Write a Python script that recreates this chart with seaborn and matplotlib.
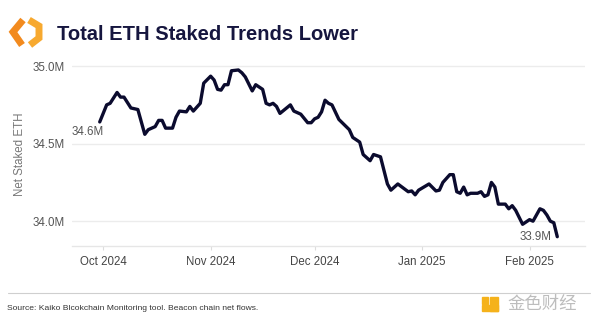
import matplotlib
matplotlib.use("Agg")
import matplotlib.pyplot as plt
import matplotlib.dates as mdates
from matplotlib.lines import Line2D
from matplotlib.patches import Rectangle
import numpy as np
import pandas as pd
import seaborn as sns

# Net staked ETH (millions), beacon chain
dates = [
    "2024-09-30", "2024-10-02", "2024-10-03", "2024-10-05", "2024-10-06", "2024-10-07",
    "2024-10-09", "2024-10-11", "2024-10-13", "2024-10-14", "2024-10-16", "2024-10-17",
    "2024-10-18", "2024-10-19", "2024-10-21", "2024-10-22", "2024-10-23", "2024-10-25",
    "2024-10-26", "2024-10-27", "2024-10-29", "2024-10-30", "2024-11-01", "2024-11-02",
    "2024-11-03", "2024-11-04", "2024-11-05", "2024-11-06", "2024-11-07", "2024-11-09",
    "2024-11-10", "2024-11-11", "2024-11-13", "2024-11-14", "2024-11-16", "2024-11-17",
    "2024-11-18", "2024-11-19", "2024-11-20", "2024-11-21", "2024-11-24", "2024-11-25",
    "2024-11-27", "2024-11-29", "2024-11-30", "2024-12-01", "2024-12-02", "2024-12-03",
    "2024-12-04", "2024-12-05", "2024-12-06", "2024-12-08", "2024-12-11", "2024-12-12",
    "2024-12-14", "2024-12-15", "2024-12-17", "2024-12-18", "2024-12-20", "2024-12-22",
    "2024-12-23", "2024-12-25", "2024-12-28", "2024-12-29", "2024-12-30", "2024-12-31",
    "2025-01-03", "2025-01-05", "2025-01-06", "2025-01-07", "2025-01-09", "2025-01-10",
    "2025-01-11", "2025-01-12", "2025-01-13", "2025-01-14", "2025-01-15", "2025-01-17",
    "2025-01-18", "2025-01-19", "2025-01-20", "2025-01-21", "2025-01-22", "2025-01-23",
    "2025-01-25", "2025-01-26", "2025-01-27", "2025-01-28", "2025-01-30", "2025-02-01",
    "2025-02-02", "2025-02-04", "2025-02-05", "2025-02-06", "2025-02-07", "2025-02-08",
    "2025-02-09",
]
staked_m = [
    34.64, 34.75, 34.76, 34.83, 34.80, 34.80,
    34.73, 34.72, 34.56, 34.59, 34.61, 34.65,
    34.65, 34.60, 34.60, 34.67, 34.71, 34.705,
    34.74, 34.71, 34.76, 34.89, 34.935, 34.91,
    34.85, 34.845, 34.88, 34.88, 34.97, 34.975,
    34.957, 34.93, 34.84, 34.88, 34.85, 34.76,
    34.75, 34.76, 34.74, 34.695, 34.75, 34.71,
    34.69, 34.635, 34.635, 34.66, 34.67, 34.705,
    34.78, 34.76, 34.75, 34.656, 34.59, 34.54,
    34.51, 34.43, 34.39, 34.43, 34.415, 34.24,
    34.20, 34.24, 34.19, 34.195, 34.17, 34.20,
    34.24, 34.195, 34.20, 34.25, 34.30, 34.30,
    34.19, 34.18, 34.22, 34.17, 34.18, 34.18,
    34.19, 34.16, 34.17, 34.25, 34.22, 34.11,
    34.11, 34.08, 34.10, 34.07, 33.98, 34.01,
    34.00, 34.08, 34.07, 34.04, 34.00, 33.99,
    33.90,
]
y_ticks = [34.0, 34.5, 35.0]
month_ticks = ["2024-10-01", "2024-11-01", "2024-12-01", "2025-01-01", "2025-02-01"]

title = "Total ETH Staked Trends Lower"
y_label = "Net Staked ETH"
source = "Source: Kaiko Blcokchain Monitoring tool. Beacon chain net flows."

df = pd.DataFrame({"date": pd.to_datetime(dates), "staked": staked_m})

sns.set_theme(style="white")
plt.rcParams["font.family"] = ["Liberation Sans", "DejaVu Sans"]

W, H = 600, 330
fig = plt.figure(figsize=(W / 100, H / 100), dpi=100)
fig.patch.set_facecolor("white")


def fx(px):
    return px / W


def fy(py):
    return 1 - py / H


ax = fig.add_axes([fx(72), fy(246), fx(585) - fx(72), fy(63) - fy(246)])
sns.lineplot(data=df, x="date", y="staked", ax=ax, color="#0b0b2e", linewidth=2.4)

ax.set_ylim(33.84, 35.02)
ax.set_xlim(pd.Timestamp("2024-09-22"), pd.Timestamp("2025-02-17"))
ax.set_yticks(y_ticks)
ax.set_yticklabels([f"{v:.1f}M" for v in y_ticks])
ax.set_xticks(pd.to_datetime(month_ticks))
ax.xaxis.set_major_formatter(mdates.DateFormatter("%b %Y"))
ax.yaxis.grid(True, color="#ececec", linewidth=1)
ax.xaxis.grid(False)
for side in ["top", "right", "left"]:
    ax.spines[side].set_visible(False)
ax.spines["bottom"].set_color("#e6e6e6")
ax.spines["bottom"].set_linewidth(1)
ax.tick_params(axis="x", colors="#444444", labelsize=8.3, length=3, width=0.8,
               pad=4, bottom=True, color="#dddddd")
ax.tick_params(axis="y", colors="#555555", labelsize=8.3, length=0, pad=5)
ax.set_xlabel("")
ax.set_ylabel(y_label, color="#777777", fontsize=8.3, labelpad=5)

# start / end value labels
d0, v0 = df["date"].iloc[0], df["staked"].iloc[0]
d1, v1 = df["date"].iloc[-1], df["staked"].iloc[-1]
ax.annotate(f"{v0:.1f}M", (d0, v0), xytext=(3, -3), textcoords="offset points",
            ha="right", va="top", fontsize=8.3, color="#555555")
ax.annotate(f"{v1:.1f}M", (d1, v1), xytext=(-4, 0), textcoords="offset points",
            ha="right", va="center", fontsize=8.3, color="#555555")

# header
fig.text(fx(57), fy(34), title, fontsize=14.5, fontweight="bold", color="#16163f",
         ha="left", va="center")

# brand mark: two orange chevrons forming a hexagon
def fig_line(pts, color, lw):
    xs = [fx(p[0]) for p in pts]
    ys = [fy(p[1]) for p in pts]
    fig.add_artist(Line2D(xs, ys, color=color, linewidth=lw,
                          solid_joinstyle="miter", solid_capstyle="butt",
                          transform=fig.transFigure))

fig_line([(23, 20), (13, 32), (22, 45)], "#f28a1e", 5)
fig_line([(29, 20), (39, 26), (39, 38), (30, 45)], "#f7a92f", 5)

# footer
fig.add_artist(Line2D([fx(8), fx(590)], [fy(293), fy(293)], color="#cfcfcf",
                      linewidth=0.8, transform=fig.transFigure))
fig.text(fx(7), fy(309), source, fontsize=6.1, color="#333333", ha="left", va="center")

fig.add_artist(Rectangle((fx(482), fy(304)), fx(6), fy(297) - fy(304),
                         transform=fig.transFigure, color="#f5b21b"))
fig.add_artist(Rectangle((fx(490), fy(311)), fx(8), fy(297) - fy(311),
                         transform=fig.transFigure, color="#f5b21b"))
fig.add_artist(Rectangle((fx(482), fy(311)), fx(16), fy(305) - fy(311),
                         transform=fig.transFigure, color="#f5b21b"))
fig.text(fx(507), fy(304), "金色财经", fontsize=12.5, color="#bdbdbd",
         family=["Noto Sans CJK SC", "DejaVu Sans"], ha="left", va="center")

fig.savefig("out.png", dpi=100)
